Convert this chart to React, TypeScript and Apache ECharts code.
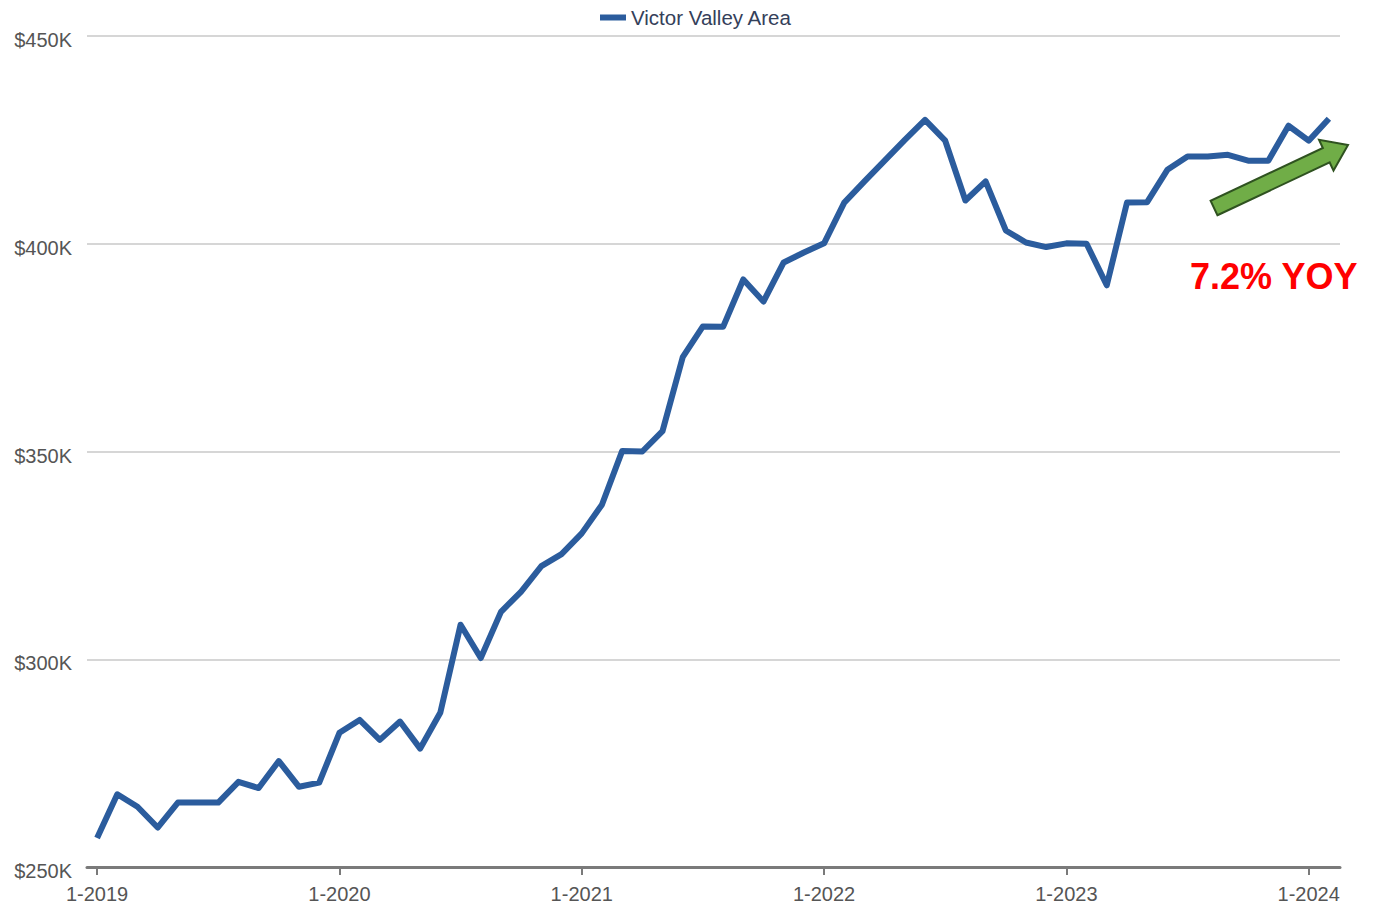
import React, { useEffect, useRef } from "react";
import * as echarts from "echarts";

// Median sale price, monthly from 1-2019 to 2-2024 (thousands of dollars)
const seriesName = "Victor Valley Area";
const medianPriceK = [
  257, 267.5, 264.5, 259.5, 265.5, 265.5, 265.5, 270.5, 269, 275.5, 269.3, 270.3,
  282.3, 285.4, 280.6, 285, 278.5, 287.2, 308.3, 300.3, 311.4, 316.3, 322.4, 325.3,
  330.3, 337.2, 350.1, 350, 354.9, 372.7, 380.1, 380, 391.4, 386.1, 395.5, 397.9,
  400.1, 409.9, 415, 420, 425, 429.8, 424.8, 410.4, 415, 403.2, 400.3, 399.2,
  400.1, 400, 390, 409.9, 410, 417.8, 421, 421, 421.4, 420, 420, 428.4,
  424.8, 430.1,
];
const yearTickIndex = [0, 12, 24, 36, 48, 60];
const yearTickLabels = ["1-2019", "1-2020", "1-2021", "1-2022", "1-2023", "1-2024"];
const yoyText = "7.2% YOY";

const LINE_BLUE = "#2B5C9D";
const AXIS_GREY = "#7a7a7a";
const LABEL_GREY = "#555555";
const FONT = "'Liberation Sans', Arial, sans-serif";

// Builds the green trend arrow as polygon points from tail centre to tip
function arrowPoints(tx: number, ty: number, px: number, py: number) {
  const dx = px - tx;
  const dy = py - ty;
  const len = Math.hypot(dx, dy);
  const ux = dx / len;
  const uy = dy / len;
  const nx = -uy;
  const ny = ux;
  const shaftHalf = 8;
  const headHalf = 17;
  const headLen = 24;
  const bx = px - ux * headLen;
  const by = py - uy * headLen;
  return [
    [tx + nx * shaftHalf, ty + ny * shaftHalf],
    [bx + nx * shaftHalf, by + ny * shaftHalf],
    [bx + nx * headHalf, by + ny * headHalf],
    [px, py],
    [bx - nx * headHalf, by - ny * headHalf],
    [bx - nx * shaftHalf, by - ny * shaftHalf],
    [tx - nx * shaftHalf, ty - ny * shaftHalf],
  ];
}

export default function App() {
  const ref = useRef<HTMLDivElement>(null);

  useEffect(() => {
    if (!ref.current) return;
    const chart = echarts.init(ref.current, null, { renderer: "svg" });
    const data = medianPriceK.map((v, i) => [i, v * 1000]);

    chart.setOption({
      animation: false,
      backgroundColor: "#ffffff",
      textStyle: { fontFamily: FONT },
      legend: {
        left: 595,
        top: 2,
        icon: "rect",
        itemWidth: 26,
        itemHeight: 6,
        itemGap: 8,
        textStyle: { color: "#34405a", fontSize: 20.5 },
        data: [seriesName],
      },
      grid: { left: 87, right: 35, top: 36, bottom: 38, containLabel: false },
      xAxis: {
        type: "value",
        min: -0.5,
        max: 61.55,
        splitLine: { show: false },
        axisLine: { show: true, lineStyle: { color: AXIS_GREY, width: 3 } },
        axisTick: {
          show: true,
          customValues: yearTickIndex,
          length: 8,
          lineStyle: { color: AXIS_GREY, width: 2 },
        },
        axisLabel: {
          customValues: yearTickIndex,
          color: LABEL_GREY,
          fontSize: 20,
          margin: 17,
          formatter: (v: number) => yearTickLabels[yearTickIndex.indexOf(Math.round(v))] ?? "",
        },
      },
      yAxis: {
        type: "value",
        min: 250000,
        max: 450000,
        interval: 50000,
        axisLine: { show: false },
        axisTick: { show: false },
        splitLine: { lineStyle: { color: "#c8c8c8", width: 1.5 } },
        axisLabel: {
          color: LABEL_GREY,
          fontSize: 20,
          margin: 15,
          formatter: (v: number) => "{p|$" + Math.round(v / 1000) + "K}",
          rich: {
            p: { color: LABEL_GREY, fontSize: 20, padding: [8, 0, 0, 0] },
          },
        },
      },
      series: [
        {
          name: seriesName,
          type: "line",
          data,
          showSymbol: false,
          symbol: "none",
          lineStyle: { color: LINE_BLUE, width: 6, join: "round" },
          itemStyle: { color: LINE_BLUE },
          z: 3,
        },
      ],
      graphic: [
        {
          type: "polygon",
          shape: { points: arrowPoints(1214, 208, 1348, 145) },
          style: { fill: "#70AD47", stroke: "#2F5220", lineWidth: 2 },
          z: 10,
        },
        {
          type: "text",
          left: 1190,
          top: 258,
          style: {
            text: yoyText,
            fill: "#FF0000",
            font: "bold 36px " + FONT,
          },
          z: 10,
        },
      ],
    });

    return () => chart.dispose();
  }, []);

  return (
    <div
      ref={ref}
      style={{ position: "absolute", left: 0, top: 0, width: 1375, height: 905 }}
    />
  );
}
